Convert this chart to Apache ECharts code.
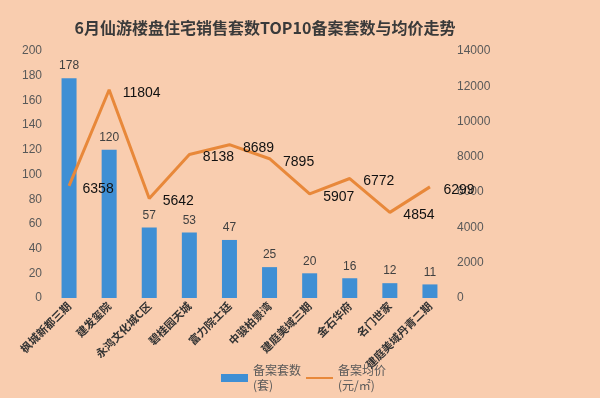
<!DOCTYPE html>
<html>
<head>
<meta charset="utf-8">
<script src="https://cdn.jsdelivr.net/npm/echarts@6/dist/echarts.min.js"></script>
<style>
  html, body { margin: 0; padding: 0; background: #f9cdaf; }
  #chart { width: 600px; height: 398px; }
</style>
</head>
<body>
<div id="chart"></div>
<script>
// categories and values
var names = ['枫城新都三期', '建发玺院', '永鸿文化城C区', '碧桂园天城', '富力院士廷',
  '中骏柏景湾', '建庭美域三期', '金石华府', '名门世家', '建庭美域丹青二期'];
var counts = [178, 120, 57, 53, 47, 25, 20, 16, 12, 11];
var prices = [6358, 11804, 5642, 8138, 8689, 7895, 5907, 6772, 4854, 6299];

var chart = echarts.init(document.getElementById('chart'));

var axisText = { color: '#595959', fontSize: 12, fontFamily: 'Liberation Sans, Arial' };

chart.setOption({
  backgroundColor: '#f9cdaf',
  title: {
    text: '6月仙游楼盘住宅销售套数TOP10备案套数与均价走势',
    left: 260,
    textAlign: 'center',
    top: 15,
    textStyle: { fontSize: 16, fontWeight: 'bold', color: '#3a3a3a', fontFamily: 'Noto Sans CJK SC' }
  },
  legend: {
    left: 216,
    top: 358,
    itemWidth: 27,
    itemHeight: 8,
    itemGap: 4,
    textStyle: { color: '#595959', fontSize: 12, fontFamily: 'Noto Sans CJK SC', lineHeight: 15 },
    data: [
      { name: '备案套数\n(套)', icon: 'rect' },
      { name: '备案均价\n(元/㎡)', itemStyle: { opacity: 0 } }
    ]
  },
  grid: { left: 49, right: 150, top: 51, bottom: 100 },
  xAxis: {
    type: 'category',
    data: names,
    axisLine: { show: false },
    axisTick: { show: false },
    axisLabel: {
      interval: 0,
      rotate: 45,
      margin: 6,
      color: '#333',
      fontSize: 11,
      fontWeight: 'bold',
      fontFamily: 'Noto Sans CJK SC'
    }
  },
  yAxis: [
    {
      type: 'value', min: 0, max: 200, interval: 20,
      axisLabel: Object.assign({ margin: 7 }, axisText),
      axisLine: { show: false }, axisTick: { show: false },
      splitLine: { show: false }
    },
    {
      type: 'value', min: 0, max: 14000, interval: 2000,
      axisLabel: Object.assign({ margin: 7, formatter: function (v) { return String(v); } }, axisText),
      axisLine: { show: false }, axisTick: { show: false },
      splitLine: { show: false }
    }
  ],
  series: [
    {
      name: '备案套数\n(套)',
      type: 'bar',
      data: counts,
      barWidth: 15,
      itemStyle: { color: '#3f8fd4' },
      label: { show: true, position: 'top', distance: 6, color: '#404040', fontSize: 12, fontFamily: 'Liberation Sans, Arial' }
    },
    {
      name: '备案均价\n(元/㎡)',
      type: 'line',
      yAxisIndex: 1,
      data: prices,
      symbol: 'circle',
      symbolSize: 1,
      showSymbol: true,
      lineStyle: { color: '#e8883a', width: 3 },
      itemStyle: { color: 'rgba(232,136,58,0)', borderWidth: 0 },
      label: {
        show: true, position: 'right', distance: 13, offset: [0, 3],
        color: '#111', fontSize: 14, fontFamily: 'Liberation Sans, Arial'
      }
    }
  ]
});
</script>
</body>
</html>
